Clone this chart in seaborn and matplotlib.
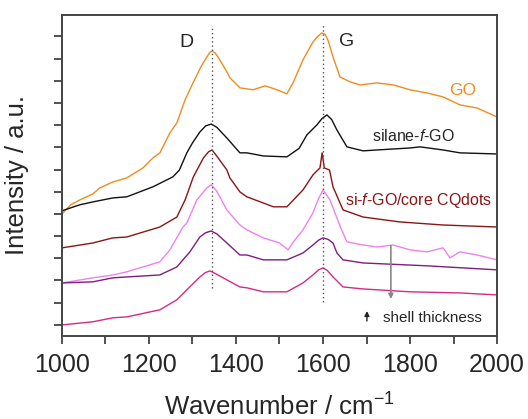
import numpy as np
import pandas as pd
import matplotlib
matplotlib.use("Agg")
import matplotlib.pyplot as plt
from matplotlib.ticker import MultipleLocator
import seaborn as sns

# Raman spectra (wavenumber / cm-1, intensity offset a.u.)
wn_go = [1000, 1020, 1041, 1071, 1087, 1117, 1149, 1186, 1209, 1225, 1248, 1264, 1283, 1300, 1320, 1333, 1340, 1345,
         1352, 1360, 1379, 1386, 1409, 1439, 1467, 1494, 1517, 1531, 1554, 1577, 1587, 1597, 1605, 1612, 1623, 1639, 1662,
         1685, 1724, 1762, 1800, 1839, 1876, 1915, 1954, 2000]
int_go = [5.00, 5.41, 5.63, 5.90, 6.17, 6.44, 6.62, 7.07, 7.52, 7.75, 8.65, 9.10, 10.14, 10.85, 11.65, 12.07, 12.28, 12.34,
          12.25, 12.03, 11.40, 11.13, 10.68, 10.59, 10.77, 10.59, 10.41, 10.90, 11.94, 12.75, 12.98, 13.15, 13.08, 12.80, 12.07, 11.17, 10.95,
          10.81, 10.90, 10.81, 10.59, 10.45, 10.27, 9.91, 9.77, 9.37]

wn_sil = [1000, 1041, 1071, 1117, 1149, 1209, 1255, 1270, 1287, 1300, 1317, 1330, 1343, 1356, 1379, 1409, 1425,
          1463, 1517, 1545, 1563, 1586, 1598, 1609, 1620, 1632, 1655, 1692, 1724, 1800, 1823, 1876, 1915, 2000]
int_sil = [5.14, 5.41, 5.54, 5.72, 5.77, 6.22, 6.67, 6.98, 7.75, 8.20, 8.69, 8.96, 9.05, 8.90, 8.42, 7.75, 7.75,
           7.61, 7.57, 7.95, 8.56, 9.01, 9.30, 9.46, 9.25, 8.78, 8.02, 7.84, 7.88, 7.97, 8.02, 7.88, 7.75, 7.70]

wn_core = [1000, 1071, 1117, 1149, 1225, 1264, 1283, 1302, 1325, 1337, 1345, 1356, 1379, 1386, 1409, 1425, 1486, 1517,
           1554, 1577, 1593, 1598, 1603, 1615, 1623, 1646, 1692, 1776, 1876, 2000]
int_core = [3.47, 3.69, 3.92, 3.96, 4.41, 4.86, 5.63, 6.67, 7.52, 7.80, 7.88, 7.60, 6.98, 6.62, 5.99, 5.77, 5.32, 5.32,
            6.08, 6.76, 7.07, 7.75, 7.07, 6.98, 6.22, 5.18, 4.86, 4.64, 4.50, 4.41]

wn_s1 = [1000, 1071, 1117, 1149, 1225, 1248, 1278, 1287, 1310, 1333, 1343, 1355, 1379, 1409, 1425, 1463, 1500,
         1520, 1530, 1554, 1577, 1590, 1600, 1616, 1640, 1655, 1692, 1724, 1761, 1800, 1839, 1876, 1892, 1915, 1954, 2000]
int_s1 = [1.89, 2.12, 2.25, 2.39, 2.84, 3.38, 4.41, 4.59, 5.63, 6.17, 6.31, 6.05, 5.18, 4.50, 4.28, 3.92, 3.69,
          3.38, 3.69, 4.28, 5.05, 5.70, 6.08, 5.63, 4.41, 3.74, 3.60, 3.51, 3.60, 3.38, 3.29, 3.47, 3.02, 3.29, 3.15, 2.93]

wn_s2 = [1000, 1071, 1117, 1149, 1225, 1264, 1294, 1317, 1330, 1343, 1356, 1379, 1409, 1425, 1463, 1517, 1554, 1577,
         1590, 1600, 1612, 1623, 1632, 1646, 1692, 1840, 2000]
int_s2 = [1.89, 1.94, 2.12, 2.16, 2.25, 2.61, 3.29, 3.96, 4.15, 4.23, 4.10, 3.69, 3.15, 3.15, 2.93, 2.93, 3.24, 3.60,
          3.82, 3.92, 3.85, 3.69, 3.24, 2.93, 2.79, 2.66, 2.48]

wn_s3 = [1000, 1071, 1117, 1149, 1225, 1264, 1287, 1317, 1330, 1340, 1352, 1379, 1409, 1425, 1463, 1517, 1554, 1577,
         1590, 1600, 1610, 1623, 1646, 1692, 1800, 1915, 2000]
int_s3 = [0.00, 0.14, 0.32, 0.36, 0.68, 1.13, 1.58, 2.16, 2.36, 2.43, 2.32, 2.03, 1.71, 1.67, 1.49, 1.49, 1.89, 2.25,
          2.48, 2.57, 2.45, 2.16, 1.71, 1.62, 1.49, 1.44, 1.35]

curves = [
    (wn_go, int_go, "#F08C1E"),
    (wn_sil, int_sil, "#111111"),
    (wn_core, int_core, "#8B1515"),
    (wn_s1, int_s1, "#EE82EE"),
    (wn_s2, int_s2, "#7E1E7E"),
    (wn_s3, int_s3, "#D62A84"),
]

sns.set_style("ticks")
plt.rcParams['font.family'] = ['Liberation Sans', 'DejaVu Sans']
plt.rcParams['mathtext.fontset'] = 'custom'
plt.rcParams['mathtext.rm'] = 'Liberation Sans'
plt.rcParams['mathtext.it'] = 'Liberation Sans:italic'

fig = plt.figure(figsize=(5.28, 4.19), dpi=100)
ax = fig.add_axes([0.1174, 0.1981, 0.8239, 0.7661])

for wn, inten, col in curves:
    df = pd.DataFrame({"wn": wn, "I": inten})
    sns.lineplot(data=df, x="wn", y="I", color=col, lw=1.0, ax=ax, estimator=None)

# D and G band positions
ax.plot([1345, 1345], [1.67, 13.38], ls=(0, (1, 2)), color="#555555", lw=1.0)
ax.plot([1600, 1600], [1.04, 13.60], ls=(0, (1, 2)), color="#555555", lw=1.0)
ax.text(1287, 12.70, "D", fontsize=14, ha="center", va="center")
ax.text(1655, 12.75, "G", fontsize=14, ha="center", va="center")

ax.text(1920, 10.54, "GO", fontsize=12.5, color="#F08C1E", ha="center", va="center")
ax.text(1807, 8.51, "silane-$f$-GO", fontsize=11.5, ha="center", va="center")
ax.text(1989, 5.59, "si-$f$-GO/core CQdots", fontsize=11.5, color="#8B1515", ha="right", va="center")

ax.annotate("", xy=(1756, 1.04), xytext=(1756, 3.69),
            arrowprops=dict(arrowstyle="-|>", color="#888888", lw=1.2, mutation_scale=7))
ax.annotate("", xy=(1701, 0.75), xytext=(1701, 0.05),
            arrowprops=dict(arrowstyle="-|>", color="#222222", lw=1.0, mutation_scale=7))
ax.text(1738, 0.32, "shell thickness", fontsize=11, ha="left", va="center")

ax.set_xlim(1000, 2000)
ax.set_ylim(-0.5, 13.96)
ax.xaxis.set_major_locator(MultipleLocator(200))
ax.xaxis.set_minor_locator(MultipleLocator(100))
ax.yaxis.set_major_locator(MultipleLocator(1))
ax.set_yticklabels([])
ax.tick_params(axis="both", which="both", direction="out", length=6, width=1.2, color="#333333",
               labelsize=18)
ax.tick_params(axis="x", pad=6)
for s in ax.spines.values():
    s.set_linewidth(1.4)
    s.set_color("#444444")

ax.set_xlabel("Wavenumber / cm$^{-1}$", fontsize=18.5, labelpad=12)
ax.set_ylabel("Intensity / a.u.", fontsize=18.5, labelpad=14)

plt.savefig("out.png", dpi=100)
